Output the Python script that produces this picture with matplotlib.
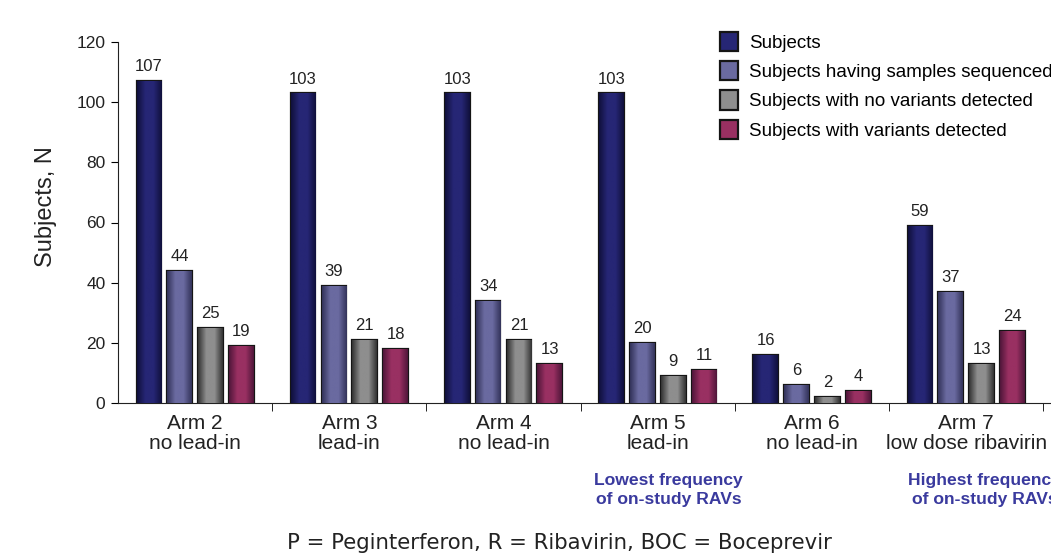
import matplotlib
matplotlib.use("Agg")
import matplotlib.pyplot as plt
import numpy as np
from matplotlib.colors import LinearSegmentedColormap

# data
arms = ["Arm 2\nno lead-in", "Arm 3\nlead-in", "Arm 4\nno lead-in",
        "Arm 5\nlead-in", "Arm 6\nno lead-in", "Arm 7\nlow dose ribavirin"]
subjects = [107, 103, 103, 103, 16, 59]
sequenced = [44, 39, 34, 20, 6, 37]
no_variants = [25, 21, 21, 9, 2, 13]
variants = [19, 18, 13, 11, 4, 24]

series = [subjects, sequenced, no_variants, variants]
names = ["Subjects", "Subjects having samples sequenced",
         "Subjects with no variants detected", "Subjects with variants detected"]
# (edge shade, centre shade) for the shaded bars
shades = [("#10103c", "#262675"), ("#33335a", "#6a6aa0"),
          ("#333333", "#8e8e8e"), ("#50163a", "#993062")]

plt.rcParams['font.family'] = ['Liberation Sans', 'DejaVu Sans']

fig = plt.figure(figsize=(10.51, 5.60), dpi=100)
ax = fig.add_axes([118 / 1051, 1 - 403 / 560, 1 - 118 / 1051, 361 / 560])

x = np.arange(len(arms))
offsets = [-0.3, -0.1, 0.1, 0.3]
width = 0.16

legend_handles = []
for vals, off, name, (dark, light) in zip(series, offsets, names, shades):
    bars = ax.bar(x + off, vals, width, color=light, edgecolor="#151515",
                  linewidth=1.6, label=name, zorder=3)
    cmap = LinearSegmentedColormap.from_list("g", [dark, light, light, dark])
    grad = np.linspace(0, 1, 64).reshape(1, -1)
    for b, v in zip(bars, vals):
        x0 = b.get_x()
        im = ax.imshow(grad, cmap=cmap, aspect="auto", zorder=3.5,
                       extent=(x0, x0 + b.get_width(), 0, v))
        im.set_clip_path(b)
        ax.text(b.get_x() + b.get_width() / 2, v + 2.2, str(v), ha="center",
                va="bottom", fontsize=12, color="#222222", zorder=5)
    legend_handles.append(bars)

ax.set_xlim(-0.5, 5.55)
ax.set_ylim(0, 120)
ax.set_yticks(range(0, 121, 20))
ax.tick_params(axis="y", labelsize=12.5, labelcolor="#222222", length=5,
               direction="out", pad=4)
ax.set_ylabel("Subjects, N", fontsize=17, color="#222222")
ax.yaxis.set_label_coords(-0.065, 0.543)

ax.set_xticks(x)
ax.set_xticklabels(arms, fontsize=15, linespacing=1.05, color="#222222")
ax.tick_params(axis="x", length=0, pad=8)
ax.set_xticks(np.arange(0.5, 6, 1), minor=True)
ax.tick_params(axis="x", which="minor", length=6, direction="out")

for s in ["top", "right"]:
    ax.spines[s].set_visible(False)
for s in ["left", "bottom"]:
    ax.spines[s].set_color("#222222")

leg = ax.legend(handles=legend_handles, labels=names, loc="upper left",
                bbox_to_anchor=((703 - 118) / 933, 1.075), frameon=False,
                fontsize=13.5, handlelength=0.95, handleheight=1.2,
                labelspacing=0.5, handletextpad=0.6)

ax.text(3.07, -23.2, "Lowest frequency\nof on-study RAVs", ha="center", va="top",
        fontsize=12.6, fontweight="bold", color="#3a3a9e", linespacing=1.35)
ax.text(5.12, -23.2, "Highest frequency\nof on-study RAVs", ha="center", va="top",
        fontsize=12.6, fontweight="bold", color="#3a3a9e", linespacing=1.35)

fig.text(559 / 1051, 1 - 543 / 560, "P = Peginterferon, R = Ribavirin, BOC = Boceprevir",
         ha="center", va="center", fontsize=15.3, family="DejaVu Sans", color="#222222")

fig.savefig("out.png", dpi=100)
